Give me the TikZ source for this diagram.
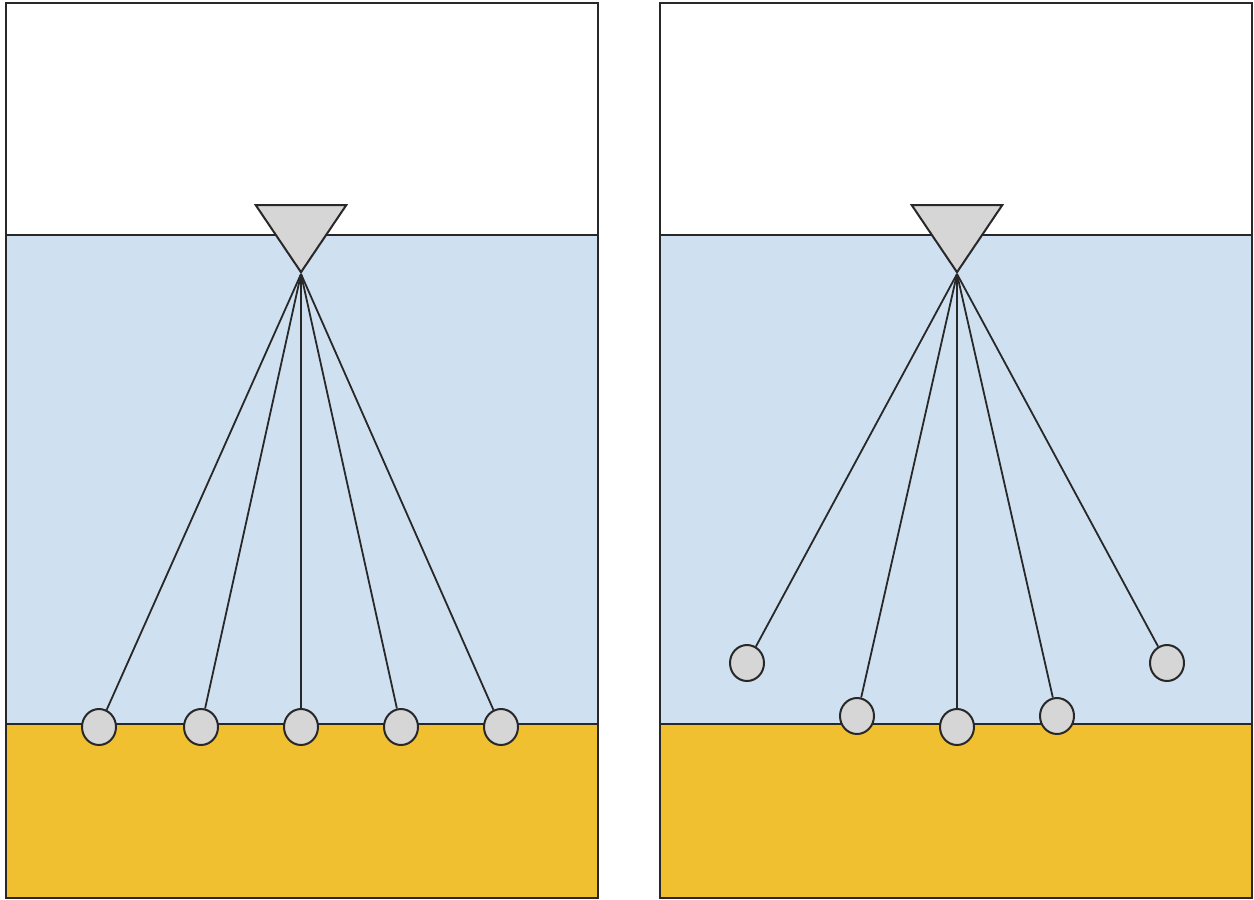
\documentclass[tikz,border=0pt]{standalone}
\usetikzlibrary{shapes.geometric}
\definecolor{water}{RGB}{207,224,241}
\definecolor{sediment}{RGB}{240,192,48}
\definecolor{sensor}{RGB}{214,214,214}
\definecolor{ink}{RGB}{40,40,40}
\begin{document}
\begin{tikzpicture}[x=1pt,y=-1pt,
  line width=2pt,
  panel/.style={draw=ink},
  waterband/.style={fill=water,draw=ink},
  bedband/.style={fill=sediment,draw=ink},
  buoy/.style={draw=ink,fill=sensor,isosceles triangle,isosceles triangle apex angle=68,
    shape border rotate=270,minimum width=90pt,inner sep=0pt,minimum height=67pt},
  bob/.style={draw=ink,fill=sensor,ellipse,minimum width=34pt,minimum height=36pt,inner sep=0pt},
  tether/.style={draw=ink,line width=1.8pt}]
\useasboundingbox (0,0) rectangle (1254,900);

% left tank
\fill[white] (6,3) rectangle (598,235);
\draw[waterband] (6,235) rectangle (598,724);
\draw[bedband] (6,724) rectangle (598,898);
\draw[panel] (6,3) rectangle (598,898);

% right tank
\fill[white] (660,3) rectangle (1252,235);
\draw[waterband] (660,235) rectangle (1252,724);
\draw[bedband] (660,724) rectangle (1252,898);
\draw[panel] (660,3) rectangle (1252,898);

% floats at the surface
\node[buoy,anchor=apex] (fl) at (301,274) {};
\node[buoy,anchor=apex] (fr) at (957,274) {};
\coordinate (al) at (301,274);
\coordinate (ar) at (957,274);

% left: sensors resting on the bed
\node[bob] (l1) at (99,727) {};
\node[bob] (l2) at (201,727) {};
\node[bob] (l3) at (301,727) {};
\node[bob] (l4) at (401,727) {};
\node[bob] (l5) at (501,727) {};
\foreach \n in {l1,l2,l3,l4,l5} \draw[tether] (al) -- (\n);

% right: outer sensors lifted off the bed
\node[bob] (r1) at (747,663) {};
\node[bob] (r2) at (857,716) {};
\node[bob] (r3) at (957,727) {};
\node[bob] (r4) at (1057,716) {};
\node[bob] (r5) at (1167,663) {};
\foreach \n in {r1,r2,r3,r4,r5} \draw[tether] (ar) -- (\n);
\end{tikzpicture}
\end{document}
